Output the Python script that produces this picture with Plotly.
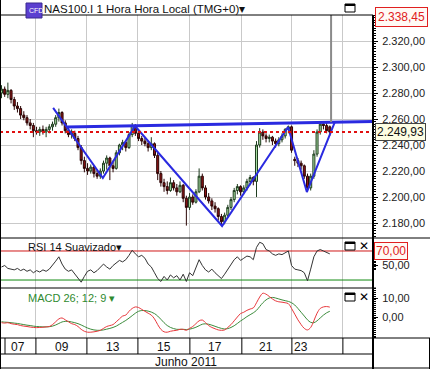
import plotly.graph_objects as go

W, H = 430, 369
FONT = "Arial, 'Liberation Sans', sans-serif"

# ---------------- data (hourly bars) ----------------
bars = list(range(104))
opens = [2280, 2283, 2279, 2282, 2275, 2270, 2268, 2263, 2261, 2257,
         2255, 2251, 2250, 2252, 2250, 2252, 2254, 2256, 2261, 2265,
         2257, 2251, 2248, 2249, 2245, 2238, 2228, 2222, 2220, 2223,
         2218, 2216, 2220, 2226, 2230, 2224, 2222, 2234, 2240, 2242,
         2238, 2248, 2255, 2249, 2245, 2243, 2241, 2238, 2241, 2232,
         2218, 2211, 2208, 2205, 2211, 2207, 2204, 2209, 2199, 2192,
         2200, 2196, 2204, 2216, 2207, 2200, 2197, 2193, 2191, 2185,
         2181, 2186, 2192, 2198, 2205, 2208, 2204, 2207, 2212, 2215,
         2212, 2240, 2250, 2247, 2245, 2246, 2243, 2241, 2244, 2247,
         2252, 2254, 2229, 2228, 2226, 2224, 2216, 2207, 2216, 2233,
         2250, 2256, 2255, 2254]
highs = [2286, 2285, 2288, 2283, 2277, 2273, 2270, 2266, 2263, 2260,
         2257, 2254, 2254, 2255, 2254, 2256, 2258, 2263, 2268, 2266,
         2259, 2253, 2252, 2251, 2247, 2240, 2231, 2226, 2225, 2224,
         2221, 2222, 2228, 2232, 2231, 2228, 2236, 2241, 2244, 2243,
         2250, 2257, 2256, 2251, 2247, 2246, 2243, 2246, 2242, 2234,
         2220, 2214, 2212, 2215, 2213, 2210, 2212, 2210, 2201, 2203,
         2202, 2206, 2222, 2218, 2209, 2203, 2199, 2196, 2192, 2187,
         2188, 2194, 2200, 2207, 2210, 2209, 2209, 2214, 2217, 2216,
         2243, 2253, 2252, 2249, 2248, 2247, 2245, 2246, 2249, 2253,
         2255, 2255, 2231, 2230, 2228, 2225, 2218, 2218, 2236, 2252,
         2258, 2258, 2257, 2255]
lows = [2276, 2277, 2276, 2272, 2267, 2265, 2260, 2259, 2255, 2252,
        2246, 2248, 2247, 2248, 2246, 2249, 2251, 2254, 2258, 2255,
        2249, 2246, 2245, 2243, 2236, 2225, 2219, 2217, 2218, 2215,
        2214, 2214, 2218, 2221, 2213, 2219, 2221, 2232, 2236, 2235,
        2237, 2246, 2247, 2243, 2240, 2239, 2235, 2236, 2230, 2213,
        2208, 2204, 2202, 2204, 2205, 2201, 2203, 2196, 2178, 2190,
        2194, 2195, 2203, 2205, 2198, 2195, 2190, 2188, 2182, 2178,
        2179, 2184, 2190, 2196, 2202, 2201, 2202, 2205, 2209, 2209,
        2200, 2238, 2244, 2242, 2242, 2240, 2238, 2239, 2242, 2245,
        2249, 2234, 2224, 2223, 2221, 2214, 2204, 2205, 2214, 2231,
        2248, 2252, 2249, 2247]
closes = [2283, 2279, 2282, 2275, 2270, 2268, 2263, 2261, 2257, 2255,
          2251, 2250, 2252, 2250, 2252, 2254, 2256, 2261, 2265, 2257,
          2251, 2248, 2249, 2245, 2238, 2228, 2222, 2220, 2223, 2218,
          2216, 2220, 2226, 2230, 2224, 2222, 2234, 2240, 2242, 2238,
          2248, 2255, 2249, 2245, 2243, 2241, 2238, 2241, 2232, 2218,
          2211, 2208, 2205, 2211, 2207, 2204, 2209, 2199, 2192, 2200,
          2196, 2204, 2216, 2207, 2200, 2197, 2193, 2191, 2185, 2181,
          2186, 2192, 2198, 2205, 2208, 2204, 2207, 2212, 2215, 2212,
          2240, 2250, 2247, 2245, 2246, 2243, 2241, 2244, 2247, 2252,
          2254, 2236, 2228, 2226, 2224, 2216, 2207, 2216, 2233, 2250,
          2256, 2255, 2251, 2249.93]

rsi = [48, 50, 46, 45, 44, 46, 43, 45, 42, 44,
       40, 43, 41, 44, 42, 45, 50, 56, 62, 52,
       45, 42, 44, 38, 33, 27, 35, 42, 44, 40,
       43, 47, 52, 48, 45, 50, 54, 57, 55, 58,
       64, 71, 66, 62, 64, 60, 52, 48, 40, 32,
       28, 35, 30, 37, 33, 36, 30, 38, 28, 40,
       36, 48, 58, 50, 44, 41, 45, 40, 36, 32,
       38, 45, 52, 58, 62, 57, 60, 63, 62, 58,
       75, 82, 80, 72, 70, 66, 64, 66, 65, 68,
       70, 50, 45, 44, 43, 40, 29, 45, 62, 70,
       72, 70, 68, 66]

macd = [-3, -3.2, -3, -3.5, -3.8, -4, -4.5, -4.8, -5, -5.3,
        -5.5, -5.6, -5.5, -5.4, -5.2, -5, -4, -2.5, -1, -0.5,
        -1.5, -2.5, -3.5, -4, -5, -6.5, -7.5, -8, -8, -7.8,
        -7.5, -7, -6, -5, -4.5, -4, -2.5, -1, 0.5, 1,
        3, 4.5, 5.3, 5, 4, 3, 2, 1, -1, -4,
        -6.5, -7.8, -8, -7.5, -7.2, -7, -6.5, -6.5, -7, -6,
        -5, -3.5, -2, -1.6, -3, -4.5, -5.5, -6.2, -6.8, -7,
        -6.8, -5.5, -4, -2, 0, 1.8, 2.5, 3.5, 4.2, 4.8,
        7.5, 10.5, 12.5, 12, 10.8, 9.5, 8.5, 8, 7.8, 7.5,
        7, 4.5, 1.5, -1.5, -4, -6, -6.8, -5.5, -2, 2,
        4.5, 5.3, 5.5, 5.2]
signal = [-2.5, -2.7, -2.8, -3, -3.2, -3.4, -3.7, -4, -4.3, -4.5,
          -4.8, -5, -5.1, -5.2, -5.2, -5.1, -4.8, -4.2, -3.4, -2.6,
          -2.3, -2.3, -2.6, -3, -3.5, -4.2, -5, -5.8, -6.4, -6.8,
          -7, -7, -6.8, -6.4, -6, -5.5, -4.8, -3.8, -2.8, -1.8,
          -0.6, 0.7, 2, 3, 3.4, 3.4, 3.1, 2.6, 1.8, 0.5,
          -1.2, -3, -4.5, -5.5, -6.1, -6.5, -6.5, -6.5, -6.6, -6.4,
          -6, -5.4, -4.6, -3.8, -3.6, -3.8, -4.3, -4.9, -5.5, -6,
          -6.3, -6.1, -5.5, -4.6, -3.4, -2.1, -1, 0.2, 1.2, 2.2,
          3.5, 5.5, 7.5, 9, 10, 10.3, 10, 9.5, 9, 8.6,
          8.2, 7.5, 6.3, 4.5, 2.5, 0.5, -1.5, -2.8, -3, -2,
          -0.5, 1, 2.2, 3]

price_ticks = [2180, 2200, 2220, 2240, 2260, 2280, 2300, 2320]
rsi_ticks = [50]
macd_ticks = [0, 10]
rsi_upper, rsi_lower = 70, 30
date_labels = ["07", "09", "13", "15", "17", "21", "23"]
date_label_bars = [5.2, 19.0, 35.0, 51.0, 67.0, 83.0, 94.0]
day_dividers = [10.8, 26.8, 42.8, 59.1, 75.4, 91.1, 107.1]
first_divider = 1.1
month_label = "Junho 2011"

# hand-drawn pattern lines (bar, price)
trend_x = [16.2, 31.8, 41.9, 69.2, 89.9, 95.8, 104.6]
trend_y = [2268.5, 2214.6, 2254.6, 2177.7, 2253.8, 2203.8, 2257.7]
neck_x = [20.5, 116.5]
neck_y = [2253.8, 2258.1]
last_price = 2249.93
top_price = 2338.45
cursor_bar = 103.4

# ---------------- layout geometry (pixels) ----------------
PX_RIGHT = 373
Y_HEAD, Y_RSI, Y_MACD, Y_AX, Y_MON, Y_BOT = 15, 238, 288, 338, 354, 368
XR = [-0.47, 116.55]


def fx(px):
    return px / W


def fy(py):
    return 1 - py / H


def euro(v):
    return "{:,.2f}".format(v).replace(",", "X").replace(".", ",").replace("X", ".")


fig = go.Figure()

fig.add_trace(go.Candlestick(
    x=bars, open=opens, high=highs, low=lows, close=closes,
    xaxis="x", yaxis="y", whiskerwidth=0,
    increasing=dict(line=dict(color="#1f3d1f", width=1), fillcolor="#a6dca0"),
    decreasing=dict(line=dict(color="#2a0505", width=1), fillcolor="#8e1414"),
    hoverinfo="skip", showlegend=False))

fig.add_trace(go.Scatter(x=trend_x, y=trend_y, mode="lines", xaxis="x", yaxis="y",
                         line=dict(color="#2a2ae0", width=2), hoverinfo="skip"))
fig.add_trace(go.Scatter(x=neck_x, y=neck_y, mode="lines", xaxis="x", yaxis="y",
                         line=dict(color="#2a2ae0", width=3), hoverinfo="skip"))
fig.add_trace(go.Scatter(x=[XR[0], XR[1]], y=[last_price, last_price], mode="lines",
                         xaxis="x", yaxis="y",
                         line=dict(color="#e01010", width=2, dash="dot"), hoverinfo="skip"))
fig.add_trace(go.Scatter(x=[cursor_bar, cursor_bar], y=[2340, neck_y[1] - 0.5], mode="lines",
                         xaxis="x", yaxis="y",
                         line=dict(color="#8a8a8a", width=2), hoverinfo="skip"))

# RSI
fig.add_trace(go.Scatter(x=[XR[0], XR[1]], y=[rsi_upper, rsi_upper], mode="lines",
                         xaxis="x2", yaxis="y2", line=dict(color="#d01818", width=1),
                         hoverinfo="skip"))
fig.add_trace(go.Scatter(x=[XR[0], XR[1]], y=[rsi_lower, rsi_lower], mode="lines",
                         xaxis="x2", yaxis="y2", line=dict(color="#108a10", width=1),
                         hoverinfo="skip"))
fig.add_trace(go.Scatter(x=bars, y=rsi, mode="lines", xaxis="x2", yaxis="y2",
                         line=dict(color="#333333", width=1), hoverinfo="skip"))

# MACD
fig.add_trace(go.Scatter(x=bars, y=signal, mode="lines", xaxis="x3", yaxis="y3",
                         line=dict(color="#3c8c3c", width=1, shape="spline"), hoverinfo="skip"))
fig.add_trace(go.Scatter(x=bars, y=macd, mode="lines", xaxis="x3", yaxis="y3",
                         line=dict(color="#e8383c", width=1, shape="spline"), hoverinfo="skip"))

xdom = [0, fx(PX_RIGHT)]
xcommon = dict(range=XR, domain=xdom, showticklabels=False, ticks="",
               tickmode="array", tickvals=day_dividers, showgrid=True,
               gridcolor="#c9c9c9", gridwidth=1, zeroline=False, showline=False,
               rangeslider=dict(visible=False), fixedrange=True)
ycommon = dict(side="right", showline=False, zeroline=False, ticks="outside",
               ticklen=4, tickcolor="#000", tickwidth=1,
               tickfont=dict(family=FONT, size=11, color="#222"),
               tickformat=",.2f", ticklabelstandoff=2, fixedrange=True)

fig.update_layout(
    width=W, height=H, margin=dict(l=0, r=0, t=0, b=0),
    paper_bgcolor="white", plot_bgcolor="white", showlegend=False,
    separators=",.", boxgap=0.1,
    xaxis=dict(**xcommon, anchor="y"),
    xaxis2=dict(**xcommon, anchor="y2", matches="x"),
    xaxis3=dict(**xcommon, anchor="y3", matches="x"),
    yaxis=dict(**ycommon, anchor="x", domain=[fy(Y_RSI), fy(Y_HEAD)],
               range=[2168.46, 2340], tickmode="array", tickvals=price_ticks,
               showgrid=True, gridcolor="#c9c9c9",
               minor=dict(dtick=2, ticklen=2, ticks="outside", tickcolor="#000", showgrid=False)),
    yaxis2=dict(**ycommon, anchor="x2", domain=[fy(Y_MACD), fy(Y_RSI)],
                range=[19.0, 87.9], tickmode="array", tickvals=rsi_ticks, showgrid=False,
                minor=dict(tickmode="array", tickvals=[44, 46, 48, 52, 54, 56],
                           ticklen=2, ticks="outside", tickcolor="#000")),
    yaxis3=dict(**ycommon, anchor="x3", domain=[fy(Y_AX), fy(Y_MACD)],
                range=[-11.05, 15.26], tickmode="array", tickvals=macd_ticks, showgrid=False,
                minor=dict(dtick=1, ticklen=2, ticks="outside", tickcolor="#000")),
)

shapes = []


def hline(py, x0, x1, color="#000", w=1):
    shapes.append(dict(type="line", xref="paper", yref="paper", x0=fx(x0), x1=fx(x1),
                       y0=fy(py), y1=fy(py), line=dict(color=color, width=w)))


def vline(px, y0, y1, color="#000", w=1):
    shapes.append(dict(type="line", xref="paper", yref="paper", x0=fx(px), x1=fx(px),
                       y0=fy(y0), y1=fy(y1), line=dict(color=color, width=w)))


hline(Y_HEAD, 0, PX_RIGHT)
hline(Y_RSI, 0, W)
hline(Y_MACD, 0, PX_RIGHT + 3)
hline(Y_AX, 0, W)
hline(Y_MON, 0, PX_RIGHT)
hline(Y_BOT, 0, W)
vline(0.5, 0, H)
vline(PX_RIGHT, Y_HEAD, H, w=2)
vline(W - 0.5, Y_AX, H)
for b in [first_divider] + day_dividers:
    shapes.append(dict(type="line", xref="x3", yref="paper", x0=b, x1=b,
                       y0=fy(Y_MON), y1=fy(Y_AX), line=dict(color="#000", width=1)))

# header icons
shapes.append(dict(type="rect", xref="paper", yref="paper", x0=fx(26), x1=fx(42),
                   y0=fy(18), y1=fy(3), fillcolor="#5b3fd0", line=dict(color="#3a2a90", width=1)))
for (bx, by) in [(345, 4), (345, 242), (345, 293)]:
    shapes.append(dict(type="rect", xref="paper", yref="paper", x0=fx(bx), x1=fx(bx + 10),
                       y0=fy(by + 8), y1=fy(by), line=dict(color="#000", width=1)))
    hline(by + 1, bx, bx + 10, w=2)

fig.update_layout(shapes=shapes)

ann = []


def text(x, y, s, size=11, color="#111", xanchor="left", xref="paper", yref="paper"):
    ann.append(dict(x=x, y=y, xref=xref, yref=yref, text=s, showarrow=False,
                    xanchor=xanchor, yanchor="middle",
                    font=dict(family=FONT, size=size, color=color)))


text(fx(26.5), fy(10.5), "CFD", size=7, color="white")
text(fx(42), fy(9.5), "NAS100.I 1 Hora Hora Local (TMG+0)\u25be", size=11.5, color="#111")
text(fx(26), fy(246.5), "RSI 14 Suavizado\u25be", size=11, color="#111")
text(fx(26), fy(298), "MACD 26; 12; 9 \u25be", size=11, color="#2f8a2f")
for by in (246, 297):
    text(fx(357), fy(by), "\u2715", size=12, color="#000")

for lab, b in zip(date_labels, date_label_bars):
    ann.append(dict(x=b, y=fy(346.5), xref="x3", yref="paper", text=lab, showarrow=False,
                    xanchor="center", yanchor="middle",
                    font=dict(family=FONT, size=12, color="#111")))
text(fx(186), fy(362), month_label, size=12, color="#111", xanchor="center")

# value boxes on the price / indicator scales
ann.append(dict(x=fx(375), y=top_price, xref="paper", yref="y", text=euro(top_price),
                showarrow=False, xanchor="left", yanchor="middle",
                font=dict(family=FONT, size=12, color="#e02020"),
                bgcolor="#fffaf5", bordercolor="#e02020", borderwidth=1, borderpad=2))
ann.append(dict(x=fx(375), y=last_price, xref="paper", yref="y", text=euro(last_price),
                showarrow=False, xanchor="left", yanchor="middle",
                font=dict(family=FONT, size=12, color="#111"),
                bgcolor="#fdfde3", bordercolor="#444", borderwidth=1, borderpad=1))
ann.append(dict(x=fx(374), y=rsi_upper, xref="paper", yref="y2", text=euro(rsi_upper),
                showarrow=False, xanchor="left", yanchor="middle",
                font=dict(family=FONT, size=12, color="#e02020"),
                bgcolor="#fffaf5", bordercolor="#e02020", borderwidth=1, borderpad=1))

fig.update_layout(annotations=ann)
fig.write_html("out.html", config={"displayModeBar": False},
               post_script="document.body.style.margin='0';document.body.style.overflow='hidden';")
